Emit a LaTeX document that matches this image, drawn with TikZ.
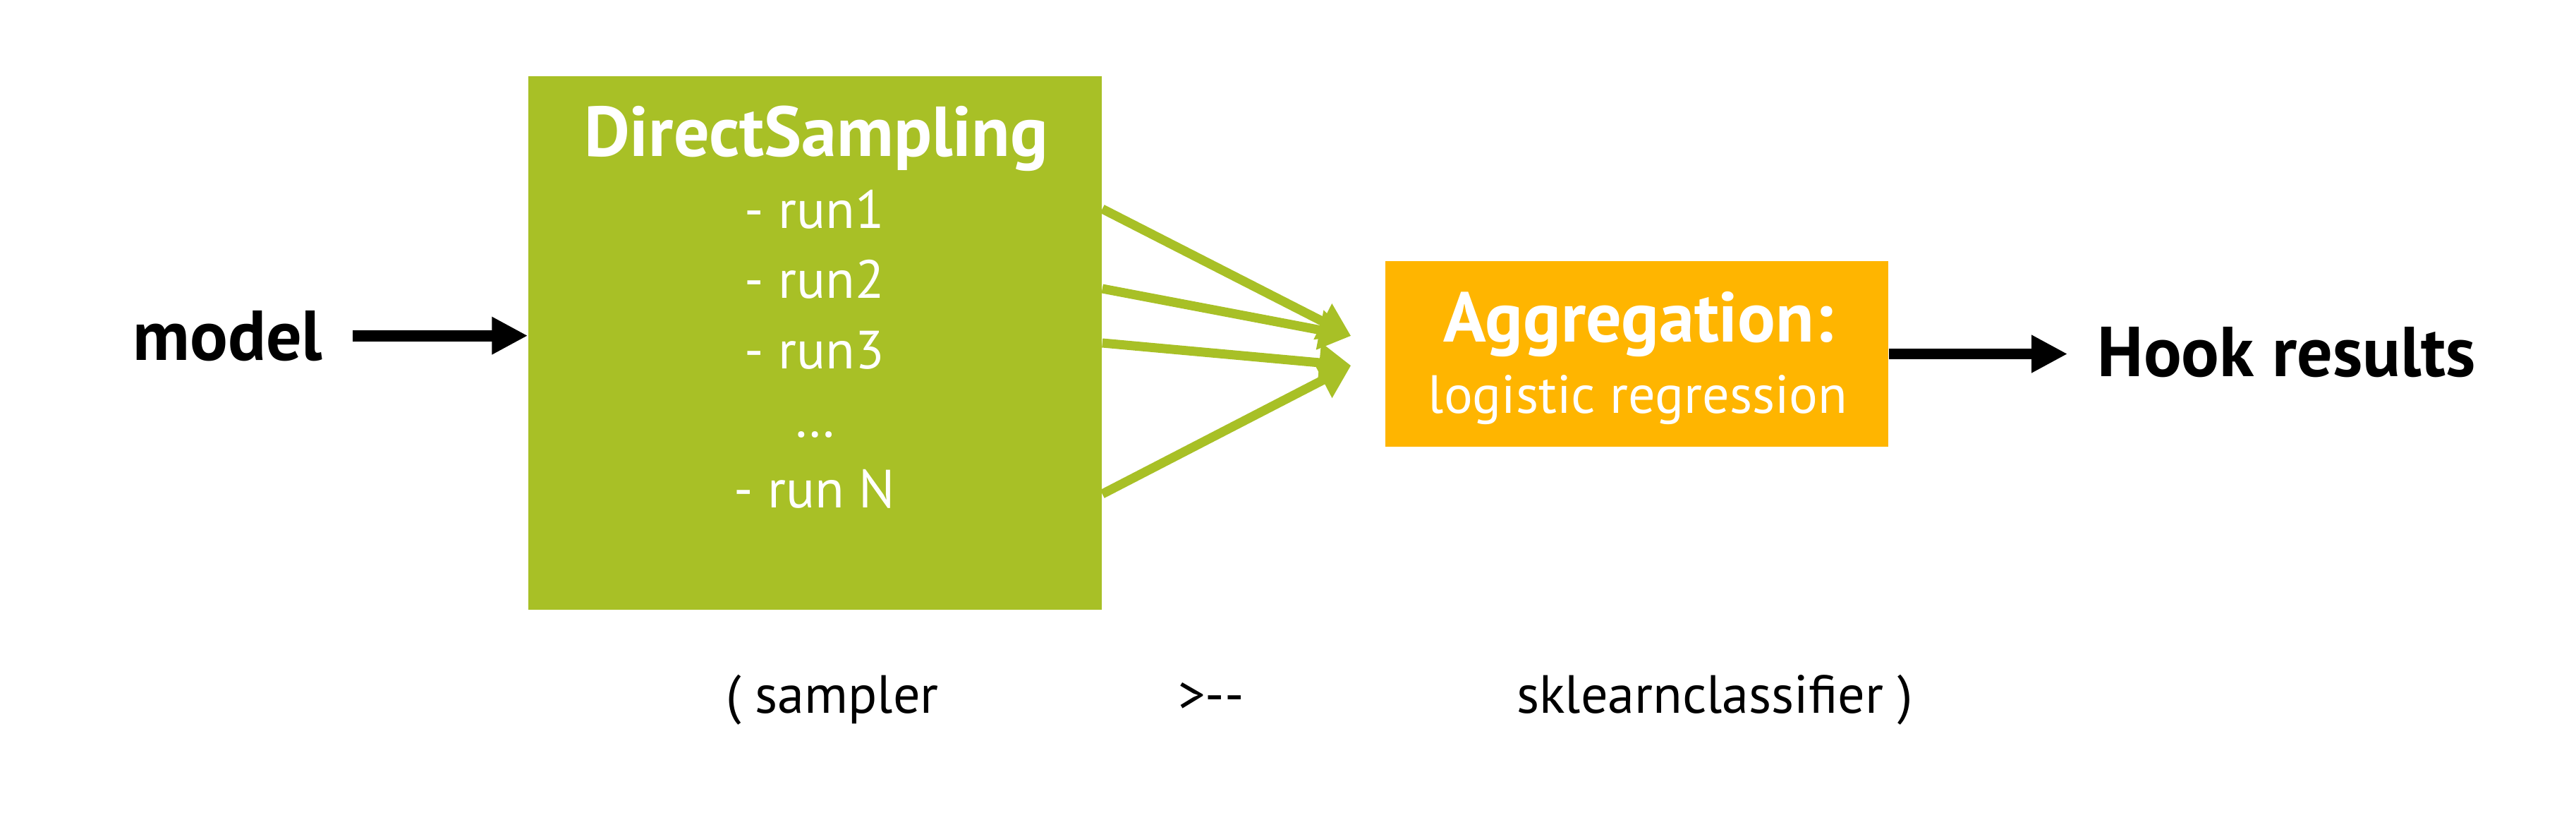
\documentclass[tikz,border=0pt]{standalone}
\usepackage{fontspec}
\setmainfont{PT Sans}
\usepackage{xcolor}
\usetikzlibrary{arrows.meta}
\definecolor{dsgreen}{RGB}{168,192,38}
\definecolor{aggorange}{RGB}{255,181,0}

\begin{document}
\begin{tikzpicture}[
        bigtext/.style={font=\fontsize{28.5}{32}\selectfont\bfseries, inner xsep=4.2mm, anchor=base},
        runtext/.style={font=\fontsize{21.7}{26}\selectfont, text=white, anchor=base},
        boxtitle/.style={font=\fontsize{28.5}{32}\selectfont\bfseries, text=white, anchor=base},
        blackarrow/.style={line width=4.5pt, -{Triangle[length=5.1mm, width=5.0mm]}},
        greenarrow/.style={dsgreen, line width=3.7pt, -{Triangle[length=4.5mm, width=5.4mm]}}
    ]
                    \useasboundingbox (0,0) rectangle (36.52,11.68);

                    \node[fill=dsgreen, minimum width=8.13cm, minimum height=7.56cm] (ds) at (11.555,6.82){};
                    \node[fill=aggorange, minimum width=7.13cm, minimum height=2.63cm] (agg) at (23.205,6.665){};

                    \node[boxtitle] (dstitle) at (11.57,9.47){DirectSampling};
                    \node[runtext] (run1) at (11.55,8.45){- run1};
                    \node[runtext] (run2) at (11.55,7.46){- run2};
                    \node[runtext] (run3) at (11.55,6.46){- run3};
                    \node[runtext] (rundots) at (11.55,5.49){\dots};
                    \node[runtext] (runN) at (11.55,4.49){- run N};

                    \node[boxtitle] (aggtitle) at (23.23,6.84){Aggregation:};
                    \node[runtext] (aggtext) at (23.22,5.83){logistic regression};

                    \node[bigtext] (model) at (3.23,6.58){model};
                    \node[bigtext] (hook) at (32.42,6.35){Hook results};

                    \node[runtext, text=black] (sampler) at (11.80,1.58){( sampler};
                    \node[runtext, text=black] (pipe) at (17.17,1.58){>{}-{}-};
                    \node[runtext, text=black] (clf) at (24.31,1.58){sklearnclassifier )};

                    \coordinate (tipA) at ([xshift=-4.8mm, yshift=2.55mm]agg.west);
                    \coordinate (tipB) at ([xshift=-4.8mm, yshift=-1.65mm]agg.west);

                    \draw[blackarrow] (model.east) -- (model.east -| ds.west);
                    \draw[blackarrow] (agg.east) -- (agg.east -| hook.west);

                    \draw[greenarrow] ([yshift=19mm]ds.east) -- (tipA);
                    \draw[greenarrow] ([yshift=7.7mm]ds.east) -- (tipA);
                    \draw[greenarrow] (ds.east) -- (tipB);
                    \draw[greenarrow] ([yshift=-21.4mm]ds.east) -- (tipB);
\end{tikzpicture}
\end{document}
